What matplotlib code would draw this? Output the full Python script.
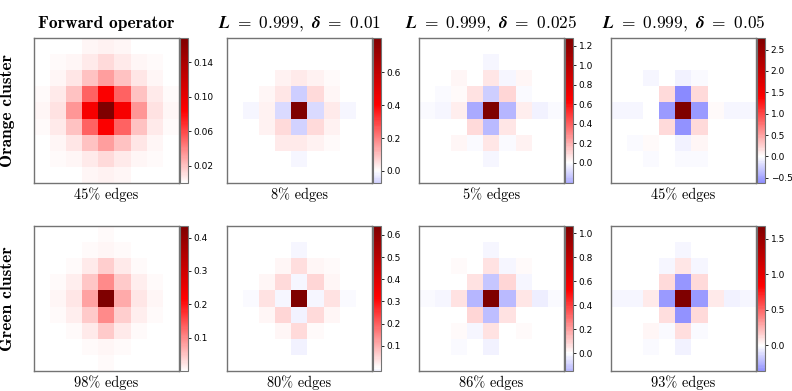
import numpy as np
import matplotlib
matplotlib.use('Agg')
import matplotlib.pyplot as plt
from matplotlib.colors import Normalize

plt.rcParams['mathtext.fontset'] = 'cm'

# column titles, row labels, captions
col_titles = ['Forward operator',
              r'$\boldsymbol{L}\ \mathbf{=\ 0.999,}\ \boldsymbol{\delta}\ \mathbf{=\ 0.01}$',
              r'$\boldsymbol{L}\ \mathbf{=\ 0.999,}\ \boldsymbol{\delta}\ \mathbf{=\ 0.025}$',
              r'$\boldsymbol{L}\ \mathbf{=\ 0.999,}\ \boldsymbol{\delta}\ \mathbf{=\ 0.05}$']
row_labels = ['Orange cluster', 'Green cluster']
edge_labels = [['45% edges', '8% edges', '5% edges', '45% edges'],
               ['98% edges', '80% edges', '86% edges', '93% edges']]

# 9x9 kernels
orange_fwd = [
    [0.0, 0.0, 0.0, 0.002, 0.004, 0.002, 0.0, 0.0, 0.0],
    [0.0, 0.001, 0.003, 0.007, 0.012, 0.007, 0.003, 0.001, 0.0],
    [0.0, 0.003, 0.008, 0.020, 0.032, 0.020, 0.008, 0.003, 0.0],
    [0.001, 0.006, 0.020, 0.052, 0.086, 0.052, 0.020, 0.006, 0.001],
    [0.003, 0.009, 0.034, 0.088, 0.168, 0.088, 0.034, 0.009, 0.003],
    [0.001, 0.006, 0.020, 0.052, 0.086, 0.052, 0.020, 0.006, 0.001],
    [0.0, 0.003, 0.008, 0.020, 0.032, 0.020, 0.008, 0.003, 0.0],
    [0.0, 0.001, 0.003, 0.007, 0.012, 0.007, 0.003, 0.001, 0.0],
    [0.0, 0.0, 0.0, 0.002, 0.004, 0.002, 0.0, 0.0, 0.0]]
orange_d01 = [
    [0, 0, 0, 0, 0, 0, 0, 0, 0],
    [0, 0, 0, 0, 0.002, 0, 0, 0, 0],
    [0, 0, 0, 0.02, 0.03, 0.02, 0.005, 0, 0],
    [0, 0, 0.01, 0.04, -0.074, 0.06, 0.01, 0, 0],
    [0, -0.01, 0.02, -0.06, 0.81, -0.06, 0.03, -0.01, 0],
    [0, 0, 0.02, 0.06, -0.07, 0.06, 0.02, 0, 0],
    [0, 0, 0, 0.03, 0.03, 0.02, 0.005, 0, 0],
    [0, 0, 0, 0, -0.01, 0, 0, 0, 0],
    [0, 0, 0, 0, 0, 0, 0, 0, 0]]
orange_d025 = [
    [0, 0, 0, 0, 0, 0, 0, 0, 0],
    [0, 0, 0, 0, -0.02, 0, 0, 0, 0],
    [0, 0, 0.02, 0, 0.06, -0.02, 0.02, 0, 0],
    [0, -0.01, 0.01, 0.07, -0.12, 0.10, -0.01, 0, 0],
    [-0.01, -0.02, 0.04, -0.21, 1.28, -0.18, 0.04, -0.03, -0.01],
    [0, 0, 0, 0.09, -0.17, 0.06, 0, 0, 0],
    [0, 0, 0.02, -0.01, 0.06, -0.01, 0.03, 0, 0],
    [0, 0, 0, 0, -0.02, 0, 0, 0, 0],
    [0, 0, 0, 0, 0, 0, 0, 0, 0]]
orange_d05 = [
    [0, 0, 0, 0, 0, 0, 0, 0, 0],
    [0, 0, 0, 0, -0.01, 0, 0, 0, 0],
    [0, 0, -0.04, 0, -0.06, -0.02, 0, 0, 0],
    [0, 0, 0, 0.2, -0.62, 0.2, 0, 0, 0],
    [-0.04, -0.05, 0, -0.55, 2.77, -0.55, 0.02, -0.05, -0.04],
    [0, 0, 0, 0.2, -0.58, 0.2, 0, 0, 0],
    [0, -0.03, 0.02, 0, -0.06, 0.04, 0, 0, 0],
    [0, 0, -0.02, 0, -0.03, -0.02, 0, 0, 0],
    [0, 0, 0, 0, 0, 0, 0, 0, 0]]

green_fwd = [
    [0, 0, 0, 0, 0.002, 0, 0, 0, 0],
    [0, 0, 0, 0.002, 0.008, 0.002, 0, 0, 0],
    [0, 0, 0.004, 0.017, 0.04, 0.017, 0.004, 0, 0],
    [0, 0.002, 0.015, 0.047, 0.098, 0.045, 0.015, 0.002, 0],
    [0.001, 0.008, 0.02, 0.08, 0.435, 0.07, 0.02, 0.008, 0.001],
    [0, 0.002, 0.015, 0.045, 0.098, 0.04, 0.012, 0.002, 0],
    [0, 0, 0.004, 0.017, 0.045, 0.017, 0.004, 0, 0],
    [0, 0, 0, 0.002, 0.008, 0.002, 0, 0, 0],
    [0, 0, 0, 0, 0.002, 0, 0, 0, 0]]
green_d01 = [
    [0, 0, 0, 0, 0, 0, 0, 0, 0],
    [0, 0, 0, 0, -0.008, 0, 0, 0, 0],
    [0, 0, 0, 0.01, 0.04, 0.01, 0.005, 0, 0],
    [0, 0, 0.01, 0.045, -0.012, 0.05, 0.01, 0, 0],
    [0, -0.006, 0.035, -0.012, 0.64, -0.01, 0.035, -0.006, 0],
    [0, 0, 0.01, 0.05, -0.013, 0.045, 0.012, 0, 0],
    [0, 0, 0, 0.01, 0.045, 0.005, 0, 0, 0],
    [0, 0, 0, 0, -0.014, 0, 0, 0, 0],
    [0, 0, 0, 0, 0, 0, 0, 0, 0]]
green_d025 = [
    [0, 0, 0, 0, 0, 0, 0, 0, 0],
    [0, 0, 0, 0, -0.02, 0, 0, 0, 0],
    [0, 0, 0.005, 0, 0.06, -0.02, 0.005, 0, 0],
    [0, 0, 0, 0.06, -0.12, 0.08, -0.02, 0, 0],
    [-0.01, -0.02, 0.06, -0.15, 1.06, -0.14, 0.05, -0.03, -0.005],
    [0, 0, 0, 0.08, -0.13, 0.06, 0, 0, 0],
    [0, 0, 0.005, -0.02, 0.06, 0, 0.005, 0, 0],
    [0, 0, -0.01, 0, -0.025, 0, 0, 0, 0],
    [0, 0, 0, 0, 0, 0, 0, 0, 0]]
green_d05 = [
    [0, 0, 0, 0, 0, 0, 0, 0, 0],
    [0, 0, 0, 0, -0.03, 0, 0, 0, 0],
    [0, 0, 0, -0.02, 0.08, -0.02, 0.005, 0, 0],
    [0, 0, 0, 0.12, -0.34, 0.12, 0.005, 0, 0],
    [-0.02, -0.03, 0.07, -0.33, 1.68, -0.33, 0.07, -0.04, -0.02],
    [0, 0, 0, 0.11, -0.36, 0.12, 0, 0, 0],
    [0, 0, 0.02, -0.01, 0.10, -0.01, 0.005, 0, 0],
    [0, 0, -0.01, 0, -0.04, 0, 0, 0, 0],
    [0, 0, 0, 0, 0, 0, 0, 0, 0]]

grids = [[orange_fwd, orange_d01, orange_d025, orange_d05],
         [green_fwd, green_d01, green_d025, green_d05]]

cbar_ticks = [[[0.02, 0.06, 0.10, 0.14], [0.0, 0.2, 0.4, 0.6],
               [0.0, 0.2, 0.4, 0.6, 0.8, 1.0, 1.2], [-0.5, 0.0, 0.5, 1.0, 1.5, 2.0, 2.5]],
              [[0.1, 0.2, 0.3, 0.4], [0.1, 0.2, 0.3, 0.4, 0.5, 0.6],
               [0.0, 0.2, 0.4, 0.6, 0.8, 1.0], [0.0, 0.5, 1.0, 1.5]]]

W, H = 792, 391
fig = plt.figure(figsize=(W / 100, H / 100), dpi=100)

# odd number of colours so that 0 lands exactly on white
cmap = plt.get_cmap('seismic').resampled(255)

lefts = [34, 227, 419, 611]
tops = [38, 226]
size = 145
title_fs = 12.5

for r in range(2):
    for c in range(4):
        data = np.array(grids[r][c], dtype=float)
        dmin, dmax = data.min(), data.max()
        m = max(abs(dmin), abs(dmax))

        x0, y0 = lefts[c], tops[r]
        ax = fig.add_axes([x0 / W, 1 - (y0 + size) / H, size / W, size / H])
        im = ax.imshow(data, cmap=cmap, norm=Normalize(-m, m),
                       interpolation='nearest')
        ax.set_xticks([])
        ax.set_yticks([])
        for s in ax.spines.values():
            s.set_edgecolor('0.45')
            s.set_linewidth(1.0)
        ax.set_xlabel(edge_labels[r][c], fontfamily='cmr10', fontsize=10.3, labelpad=3)
        if r == 0:
            if c == 0:
                ax.set_title(col_titles[c], fontfamily='cmb10', fontsize=title_fs, pad=7)
            else:
                ax.set_title(col_titles[c], fontsize=title_fs, pad=7)

        # colorbar only spans the data range
        cax = fig.add_axes([(x0 + size + 1) / W, 1 - (y0 + size) / H, 7.5 / W, size / H])
        cb = fig.colorbar(im, cax=cax, ticks=cbar_ticks[r][c],
                          boundaries=np.linspace(dmin, dmax, 257))
        cb.ax.tick_params(labelsize=6.5, length=2.5, width=0.6, pad=2)
        cb.outline.set_edgecolor('0.45')
        cb.outline.set_linewidth(0.8)

for r in range(2):
    yc = tops[r] + size / 2
    fig.text(8 / W, 1 - yc / H, row_labels[r], rotation=90, ha='center', va='center',
             fontfamily='cmb10', fontsize=title_fs)

fig.savefig('out.png', dpi=100)
